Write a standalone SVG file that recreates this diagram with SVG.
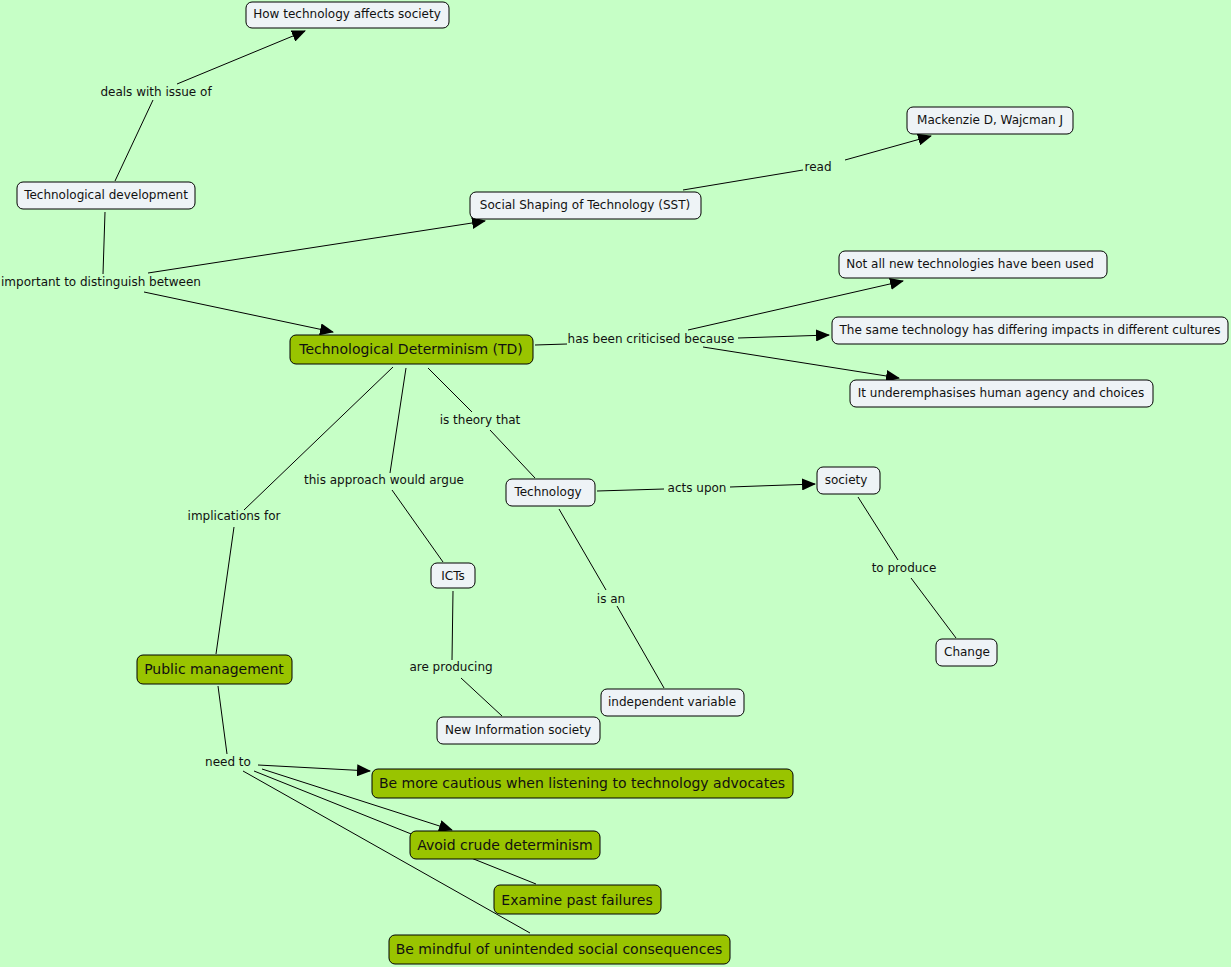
<svg xmlns="http://www.w3.org/2000/svg" width="1231" height="967" viewBox="0 0 1231 967">
<defs>
<marker id="arr" markerWidth="14" markerHeight="12" refX="13" refY="6" orient="auto" markerUnits="userSpaceOnUse">
<path d="M0,0 L14,6 L0,12 z" fill="#000"/>
</marker>
<style>
.n rect{fill:#EEF3F6;stroke:#000;stroke-width:1}
.g rect{fill:#99C400;stroke:#000;stroke-width:1}
text{font-family:"DejaVu Sans",Verdana,sans-serif;fill:#111;text-anchor:middle;dominant-baseline:central}
.n text{font-size:12px}
.g text{font-size:14px}
.lp{font-size:12px}
.c line{stroke:#000;stroke-width:1;fill:none}
.c line.a{marker-end:url(#arr)}
</style>
</defs>
<rect width="1231" height="967" fill="#C6FFC6"/>
<g id="connectors" class="c">
<line x1="115" y1="181" x2="153" y2="100"/>
<line class="a" x1="177" y1="84" x2="305" y2="31"/>
<line x1="105" y1="212" x2="103" y2="274"/>
<line class="a" x1="148" y1="273" x2="485" y2="221"/>
<line class="a" x1="144" y1="292" x2="333" y2="332"/>
<line x1="683" y1="190" x2="803" y2="170"/>
<line class="a" x1="845" y1="160" x2="931" y2="136"/>
<line x1="535" y1="345" x2="567" y2="344"/>
<line class="a" x1="688" y1="330" x2="903" y2="281"/>
<line class="a" x1="738" y1="338" x2="829" y2="335"/>
<line class="a" x1="703" y1="347" x2="899" y2="378"/>
<line x1="393" y1="367" x2="244" y2="510"/>
<line x1="234" y1="527" x2="216" y2="654"/>
<line x1="406" y1="368" x2="390" y2="473"/>
<line x1="392" y1="490" x2="443" y2="562"/>
<line x1="428" y1="368" x2="472" y2="412"/>
<line x1="490" y1="430" x2="535" y2="478"/>
<line x1="597" y1="491" x2="664" y2="489"/>
<line class="a" x1="730" y1="487" x2="815" y2="484"/>
<line x1="559" y1="509" x2="606" y2="590"/>
<line x1="617" y1="606" x2="664" y2="688"/>
<line x1="858" y1="497" x2="898" y2="560"/>
<line x1="911" y1="578" x2="956" y2="638"/>
<line x1="453" y1="591" x2="452" y2="660"/>
<line x1="461" y1="678" x2="502" y2="716"/>
<line x1="218" y1="686" x2="227" y2="754"/>
<line class="a" x1="258" y1="765" x2="370" y2="771"/>
<line class="a" x1="262" y1="769" x2="452" y2="830"/>
<line x1="254" y1="771" x2="536" y2="884"/>
<line x1="243" y1="771" x2="530" y2="933"/>
</g>
<g id="labels">
<text class="lp" x="156" y="92">deals with issue of</text>
<text class="lp" x="101" y="282">important to distinguish between</text>
<text class="lp" x="818" y="167">read</text>
<text class="lp" x="651" y="339">has been criticised because</text>
<text class="lp" x="480" y="420">is theory that</text>
<text class="lp" x="384" y="480">this approach would argue</text>
<text class="lp" x="234" y="516">implications for</text>
<text class="lp" x="697" y="488">acts upon</text>
<text class="lp" x="904" y="568">to produce</text>
<text class="lp" x="611" y="599">is an</text>
<text class="lp" x="451" y="667">are producing</text>
<text class="lp" x="228" y="762">need to</text>
</g>
<g id="n1" class="n"><rect x="246" y="2" width="203" height="26" rx="6"/><text x="347" y="14">How technology affects society</text></g>
<g id="n2" class="n"><rect x="17" y="182" width="178" height="27" rx="6"/><text x="106" y="195">Technological development</text></g>
<g id="n3" class="n"><rect x="470" y="192" width="231" height="27" rx="6"/><text x="585" y="205">Social Shaping of Technology (SST)</text></g>
<g id="n4" class="n"><rect x="907" y="107" width="166" height="27" rx="6"/><text x="990" y="120">Mackenzie D, Wajcman J</text></g>
<g id="n5" class="n"><rect x="839" y="251" width="268" height="27" rx="6"/><text x="970" y="264">Not all new technologies have been used</text></g>
<g id="n6" class="n"><rect x="832" y="317" width="396" height="27" rx="6"/><text x="1030" y="330">The same technology has differing impacts in different cultures</text></g>
<g id="n7" class="n"><rect x="850" y="380" width="303" height="27" rx="6"/><text x="1001" y="393">It underemphasises human agency and choices</text></g>
<g id="n8" class="g"><rect x="290" y="335" width="243" height="29" rx="6"/><text x="411" y="349">Technological Determinism (TD)</text></g>
<g id="n9" class="n"><rect x="506" y="479" width="89" height="27" rx="6"/><text x="548" y="492">Technology</text></g>
<g id="n10" class="n"><rect x="817" y="467" width="63" height="27" rx="6"/><text x="846" y="480">society</text></g>
<g id="n11" class="n"><rect x="936" y="639" width="61" height="27" rx="6"/><text x="967" y="652">Change</text></g>
<g id="n12" class="n"><rect x="431" y="563" width="44" height="25" rx="6"/><text x="453" y="576">ICTs</text></g>
<g id="n13" class="n"><rect x="437" y="717" width="163" height="27" rx="6"/><text x="518" y="730">New Information society</text></g>
<g id="n14" class="n"><rect x="601" y="689" width="143" height="27" rx="6"/><text x="672" y="702">independent variable</text></g>
<g id="n15" class="g"><rect x="137" y="655" width="155" height="29" rx="6"/><text x="214" y="669">Public management</text></g>
<g id="n16" class="g"><rect x="372" y="769" width="421" height="29" rx="6"/><text x="582" y="783">Be more cautious when listening to technology advocates</text></g>
<g id="n17" class="g"><rect x="410" y="831" width="190" height="28" rx="6"/><text x="505" y="845">Avoid crude determinism</text></g>
<g id="n18" class="g"><rect x="494" y="885" width="167" height="29" rx="6"/><text x="577" y="900">Examine past failures</text></g>
<g id="n19" class="g"><rect x="389" y="935" width="341" height="29" rx="6"/><text x="559" y="949">Be mindful of unintended social consequences</text></g>
</svg>
